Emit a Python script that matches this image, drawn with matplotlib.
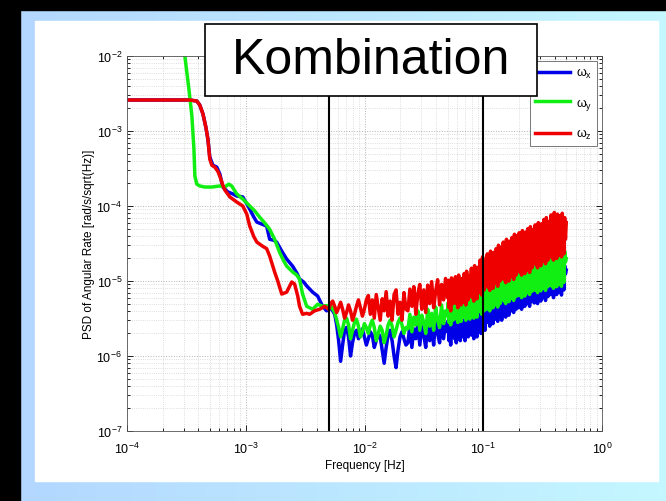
import numpy as np
import matplotlib
matplotlib.use('Agg')
import matplotlib.pyplot as plt
from matplotlib.patches import Rectangle

plt.rcParams['font.family'] = ['Liberation Sans', 'DejaVu Sans']
plt.rcParams['mathtext.default'] = 'regular'

# low frequency part
fx_lo = [1.0e-4, 3.38e-4, 3.87e-4, 4.10e-4, 4.36e-4, 4.61e-4, 4.80e-4, 4.98e-4, 5.28e-4, 5.70e-4,
         6.05e-4, 6.41e-4, 7.06e-4, 7.78e-4, 8.39e-4, 9.44e-4, 1.0e-3, 1.08e-3, 1.17e-3, 1.24e-3,
         1.36e-3, 1.50e-3, 1.59e-3, 1.72e-3, 1.82e-3, 2.01e-3, 2.21e-3, 2.48e-3, 2.69e-3, 2.84e-3,
         3.07e-3, 3.26e-3, 3.66e-3, 4.03e-3, 4.44e-3, 4.80e-3]
wx_lo = [2.59e-3, 2.59e-3, 2.51e-3, 2.22e-3, 1.69e-3, 1.13e-3, 7.8e-4, 4.5e-4, 3.5e-4, 3.3e-4,
         2.67e-4, 1.79e-4, 1.54e-4, 1.45e-4, 1.36e-4, 1.32e-4, 1.13e-4, 9.1e-5, 7.1e-5, 6.1e-5,
         5.75e-5, 5.4e-5, 3.6e-5, 3.5e-5, 3.3e-5, 2.5e-5, 1.96e-5, 1.58e-5, 1.28e-5, 1.06e-5,
         9.7e-6, 8.6e-6, 7.1e-6, 6.3e-6, 4.6e-6, 4.0e-6]

fy_lo = [2.79e-4, 3.07e-4, 3.32e-4, 3.52e-4, 3.66e-4, 3.73e-4, 3.87e-4, 4.10e-4, 4.52e-4, 5.18e-4,
         6.05e-4, 6.67e-4, 7.19e-4, 7.62e-4, 8.39e-4, 9.44e-4, 1.08e-3, 1.19e-3, 1.31e-3, 1.45e-3,
         1.59e-3, 1.75e-3, 1.93e-3, 2.09e-3, 2.21e-3, 2.48e-3, 2.69e-3, 2.84e-3, 3.01e-3, 3.26e-3,
         3.66e-3, 4.03e-3, 4.44e-3, 4.80e-3]
wy_lo = [2.5e-2, 1.0e-2, 3.63e-3, 1.58e-3, 5.75e-4, 2.5e-4, 1.96e-4, 1.85e-4, 1.79e-4, 1.79e-4,
         1.85e-4, 1.79e-4, 1.96e-4, 1.85e-4, 1.45e-4, 1.24e-4, 1.0e-4, 8.6e-5, 7.1e-5, 5.9e-5,
         4.9e-5, 3.6e-5, 2.4e-5, 1.85e-5, 1.58e-5, 1.32e-5, 1.2e-5, 1.06e-5, 6.7e-6, 4.6e-6,
         4.2e-6, 4.9e-6, 4.6e-6, 4.7e-6]

fz_lo = [1.0e-4, 3.38e-4, 3.87e-4, 4.10e-4, 4.36e-4, 4.61e-4, 4.80e-4, 4.98e-4, 5.18e-4, 5.48e-4,
         5.82e-4, 6.05e-4, 6.41e-4, 6.67e-4, 7.35e-4, 8.39e-4, 9.44e-4, 1.02e-3, 1.08e-3, 1.17e-3,
         1.24e-3, 1.39e-3, 1.50e-3, 1.59e-3, 1.75e-3, 1.86e-3, 2.01e-3, 2.21e-3, 2.44e-3, 2.58e-3,
         2.74e-3, 2.84e-3, 3.01e-3, 3.26e-3, 3.45e-3, 3.80e-3, 4.19e-3, 4.61e-3]
wz_lo = [2.59e-3, 2.59e-3, 2.51e-3, 2.22e-3, 1.69e-3, 1.13e-3, 7.8e-4, 4.2e-4, 3.5e-4, 3.3e-4,
         2.9e-4, 2.5e-4, 1.9e-4, 1.63e-4, 1.32e-4, 1.13e-4, 1.0e-4, 7.8e-5, 5.4e-5, 3.9e-5,
         3.3e-5, 2.9e-5, 2.7e-5, 2.15e-5, 1.32e-5, 1.0e-5, 6.7e-6, 7.1e-6, 9.7e-6, 9.1e-6,
         6.3e-6, 4.6e-6, 3.6e-6, 3.7e-6, 3.6e-6, 4.0e-6, 4.2e-6, 4.6e-6]

# 0.005 .. 0.05 Hz, units of 1e-6
wx_mid = [4.6, 4.3, 4.0, 3.6, 2.6, 1.6, 0.85, 1.4, 2.2, 2.4,
          1.8, 1.0, 1.5, 2.0, 2.2, 1.7, 1.9, 2.3, 1.8, 1.4,
          1.7, 2.1, 1.9, 1.3, 1.6, 2.0, 1.8, 1.2, 0.8, 1.3,
          1.9, 2.2, 1.6, 1.0, 0.7, 1.2, 1.8, 2.1, 1.7, 1.4,
          1.5, 2.6, 1.3, 2.3, 1.7, 2.8, 1.4, 2.5, 1.9, 1.3,
          2.9, 1.6, 2.4, 1.4, 3.0, 2.0, 1.5, 3.1, 1.7, 2.7]
wy_mid = [4.4, 4.7, 4.2, 3.8, 3.0, 2.4, 1.8, 2.3, 3.0, 3.2,
          2.6, 1.7, 2.2, 2.8, 3.1, 2.5, 1.8, 2.1, 2.7, 2.4,
          2.0, 2.6, 3.0, 2.4, 1.6, 2.0, 2.5, 2.2, 1.5, 1.9,
          2.6, 3.0, 2.5, 1.8, 2.2, 2.8, 3.2, 2.6, 2.0, 2.4,
          2.3, 3.6, 2.1, 3.3, 2.6, 4.0, 2.2, 3.5, 2.8, 2.0,
          4.2, 2.5, 3.7, 2.2, 4.5, 3.0, 2.4, 4.8, 2.7, 4.0]
wz_mid = [4.2, 5.0, 5.4, 4.6, 3.8, 4.4, 5.2, 4.2, 3.2, 3.8,
          4.8, 4.0, 3.0, 3.6, 4.6, 5.6, 4.4, 3.4, 4.2, 5.6,
          6.4, 3.6, 5.6, 3.2, 6.6, 4.4, 3.0, 5.8, 4.0, 7.2,
          3.4, 5.4, 3.0, 6.6, 7.6, 3.6, 5.2, 3.0, 7.0, 4.2,
          4.0, 7.8, 4.6, 8.4, 3.6, 6.8, 9.0, 4.2, 7.6, 3.8,
          8.8, 5.0, 9.8, 4.4, 7.2, 10.4, 4.8, 9.0, 5.6, 10.8]

# 0.05 .. 0.5 Hz, units of 1e-6
wx_hi = [2.1, 3.0, 1.6, 2.6, 1.4, 2.9, 2.2, 1.8, 3.2, 1.7,
         2.8, 1.5, 2.4, 3.3, 1.9, 2.6, 1.6, 3.1, 2.2, 1.8,
         3.0, 2.0, 1.6, 3.5, 2.4, 2.9, 1.8, 3.3, 2.1, 3.6,
         1.9, 3.2, 2.5, 1.7, 3.7, 2.2, 3.0, 1.8, 3.8, 2.6,
         2.4, 4.0, 2.0, 3.3, 4.4, 2.6, 3.8, 2.2, 4.1, 3.0,
         4.6, 2.8, 3.9, 2.5, 5.0, 3.2, 4.3, 2.7, 4.8, 3.5,
         3.1, 5.2, 3.8, 2.9, 5.8, 4.1, 3.3, 5.5, 3.0, 4.6,
         5.9, 3.6, 4.8, 3.3, 6.6, 4.2, 5.4, 3.5, 6.2, 4.5,
         4.0, 6.8, 4.9, 3.8, 7.6, 5.3, 4.2, 7.0, 5.8, 4.4,
         7.8, 4.5, 6.0, 4.2, 8.6, 5.2, 7.1, 4.6, 8.2, 5.6,
         5.0, 9.0, 6.2, 4.6, 10.0, 6.8, 5.3, 9.4, 7.4, 5.1,
         10.4, 5.6, 7.8, 5.0, 11.5, 6.4, 8.9, 5.4, 10.8, 7.0,
         6.0, 11.8, 7.6, 5.5, 13.0, 8.4, 6.2, 12.2, 9.4, 6.6,
         13.4, 7.0, 9.8, 6.0, 15.0, 8.2, 11.6, 6.6, 14.2, 9.0,
         7.2, 15.4, 9.6, 6.5, 17.0, 10.8, 7.6, 16.0, 12.4, 14.0]
wy_hi = [3.4, 5.2, 2.8, 4.4, 2.6, 5.5, 3.7, 3.0, 4.9, 3.2,
         5.6, 3.1, 4.2, 2.8, 6.0, 3.6, 4.8, 2.9, 5.3, 3.9,
         3.3, 6.1, 4.0, 3.0, 6.5, 4.6, 3.4, 5.8, 3.1, 5.0,
         6.6, 3.5, 4.9, 3.2, 7.2, 4.2, 5.8, 3.3, 6.9, 4.4,
         3.9, 7.8, 4.8, 3.6, 8.5, 5.4, 4.0, 7.2, 6.0, 4.2,
         8.8, 4.3, 6.1, 4.0, 9.5, 5.2, 7.4, 4.4, 9.0, 5.8,
         4.8, 9.6, 6.2, 4.5, 10.5, 7.0, 5.0, 9.9, 5.6, 8.0,
         10.6, 5.4, 7.6, 5.0, 11.5, 6.4, 8.8, 5.3, 11.0, 6.8,
         5.9, 12.0, 7.8, 5.5, 13.0, 8.6, 6.2, 12.4, 9.6, 6.4,
         13.4, 6.5, 9.0, 6.0, 14.5, 7.6, 11.0, 6.3, 13.8, 8.2,
         7.0, 14.6, 9.4, 6.6, 16.0, 10.4, 7.3, 15.2, 11.8, 7.6,
         16.4, 7.6, 11.0, 7.0, 18.0, 9.0, 13.2, 7.4, 17.2, 10.0,
         8.0, 18.4, 11.6, 7.5, 20.0, 12.8, 8.4, 19.0, 14.6, 8.8,
         21.0, 8.6, 13.0, 8.0, 23.0, 10.6, 16.0, 8.4, 22.0, 11.6,
         9.0, 24.0, 14.4, 8.5, 26.0, 16.0, 9.6, 25.0, 18.0, 20.0]
wz_hi = [6.0, 10.2, 4.4, 8.2, 4.0, 11.0, 6.8, 5.0, 9.6, 5.4,
         11.4, 5.0, 8.0, 4.4, 12.0, 6.2, 9.4, 4.8, 10.8, 7.0,
         5.2, 12.6, 7.4, 4.8, 13.5, 8.6, 5.6, 11.8, 6.4, 10.0,
         14.8, 6.0, 9.6, 5.4, 16.0, 7.6, 12.0, 5.8, 15.2, 8.4,
         7.0, 19.0, 10.4, 6.5, 21.0, 12.6, 7.6, 17.4, 9.0, 20.0,
         23.0, 8.2, 13.6, 7.5, 25.0, 10.4, 18.0, 8.0, 24.0, 12.0,
         9.2, 27.0, 15.0, 8.5, 30.0, 18.0, 10.0, 28.0, 12.6, 22.0,
         33.0, 10.4, 18.6, 9.5, 36.0, 14.0, 25.0, 10.0, 34.0, 16.0,
         11.4, 38.0, 20.0, 10.5, 42.0, 24.0, 12.0, 40.0, 16.0, 30.0,
         44.0, 13.0, 24.0, 12.0, 47.0, 18.0, 34.0, 12.6, 45.0, 21.0,
         14.0, 50.0, 26.0, 13.0, 53.0, 30.0, 15.0, 48.0, 20.0, 40.0,
         56.0, 16.4, 32.0, 15.0, 60.0, 22.0, 44.0, 16.0, 58.0, 26.0,
         18.4, 66.0, 34.0, 17.0, 70.0, 40.0, 19.0, 62.0, 26.0, 52.0,
         76.0, 20.4, 40.0, 19.0, 82.0, 28.0, 60.0, 20.0, 78.0, 32.0,
         22.0, 74.0, 42.0, 21.0, 80.0, 48.0, 23.0, 70.0, 36.0, 60.0]

f_marks = [5e-3, 1e-1]
labels = [r'$\omega_x$', r'$\omega_y$', r'$\omega_z$']
colors = ['#0000e6', '#11ee11', '#ee0000']


def join(f_lo, w_lo, w_mid, w_hi):
    f_mid = np.geomspace(5e-3, 5e-2, len(w_mid), endpoint=False)
    f_hi = np.geomspace(5e-2, 0.5, len(w_hi))
    f = np.concatenate([f_lo, f_mid, f_hi])
    w = np.concatenate([w_lo, np.array(w_mid) * 1e-6, np.array(w_hi) * 1e-6])
    return f, w


fig = plt.figure(figsize=(6.66, 5.02), dpi=100)
W, H = 666.0, 502.0

# slide background
bg = fig.add_axes([0, 0, 1, 1], zorder=-5)
grad = np.linspace(0, 1, 256)[None, :, None]
c0 = np.array([0.70, 0.84, 1.0])
c1 = np.array([0.77, 0.97, 1.0])
bg.imshow(c0 + (c1 - c0) * grad, extent=[0, 1, 0, 1], aspect='auto')
bg.add_patch(Rectangle((0, 1 - 11 / H), 1, 11 / H, color='black'))
bg.add_patch(Rectangle((0, 0), 20 / W, 1, color='black'))
bg.add_patch(Rectangle((35 / W, 1 - 482 / H), 623 / W, 460 / H, color='white'))
bg.set_xlim(0, 1)
bg.set_ylim(0, 1)
bg.axis('off')

ax = fig.add_axes([127 / W, 1 - 432 / H, 475 / W, 375 / H])
series = [(fx_lo, wx_lo, wx_mid, wx_hi), (fy_lo, wy_lo, wy_mid, wy_hi), (fz_lo, wz_lo, wz_mid, wz_hi)]
for s, c, lab in zip(series, colors, labels):
    f, w = join(*s)
    ax.plot(f, w, color=c, lw=2.5, label=lab)
for fm in f_marks:
    ax.axvline(fm, color='black', lw=1.5, zorder=4)

ax.set_xscale('log')
ax.set_yscale('log')
ax.set_xlim(1e-4, 1e0)
ax.set_ylim(1e-7, 1e-2)
ax.grid(True, which='major', color='#b4b4b4', ls=':', lw=0.7)
ax.grid(True, which='minor', color='#d2d2d2', ls=':', lw=0.6)
ax.tick_params(which='both', direction='in', top=True, right=True, labelsize=9, width=0.6)
ax.tick_params(which='major', length=4)
ax.tick_params(which='minor', length=2)
ax.tick_params(axis='x', pad=7)
for sp in ax.spines.values():
    sp.set_linewidth(0.6)
    sp.set_color('#555555')
ax.set_xlabel('Frequency [Hz]', fontsize=8.5, labelpad=2)
ax.set_ylabel('PSD of Angular Rate [rad/s/sqrt(Hz)]', fontsize=8.5, labelpad=1)

leg = ax.legend(loc='upper right', fontsize=9, handlelength=2.8, labelspacing=1.25,
                borderaxespad=0.4, fancybox=False, framealpha=1, handletextpad=0.5)
leg.get_frame().set_edgecolor('#777777')
leg.get_frame().set_linewidth(0.7)

fig.add_artist(Rectangle((205 / W, 1 - 97 / H), 332 / W, 72 / H, transform=fig.transFigure,
                         facecolor='white', edgecolor='black', lw=1.2, zorder=5))
fig.text(371 / W, 1 - 61 / H, 'Kombination', fontsize=36, ha='center', va='center', zorder=6)

plt.savefig('out.png', dpi=100)
